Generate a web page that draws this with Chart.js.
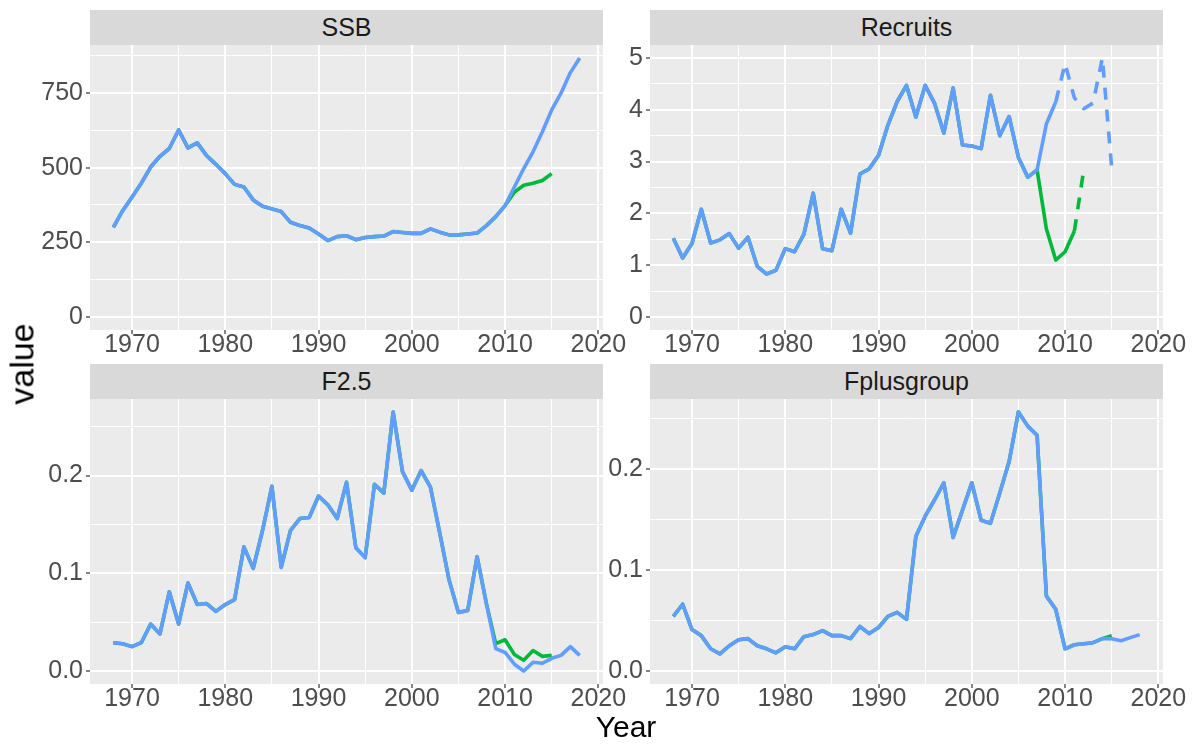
<!DOCTYPE html>
<html>
<head>
<meta charset="utf-8">
<script src="https://cdn.jsdelivr.net/npm/chart.js@4.4.1/dist/chart.umd.min.js"></script>
<style>
body{margin:0;background:#fff;font-family:"Liberation Sans",Arial,sans-serif}
#wrap{position:relative;width:1196px;height:745px;overflow:hidden;background:#fff}
.strip{position:absolute;background:#D9D9D9;color:#1A1A1A;font-size:25px;text-align:center;height:35px;line-height:35px}
.cv{position:absolute}
.title{position:absolute;color:#000;font-size:30px;white-space:nowrap}
</style>
</head>
<body>
<div id="wrap"></div>
<script>
const years = [1968,1969,1970,1971,1972,1973,1974,1975,1976,1977,1978,1979,1980,1981,1982,1983,1984,1985,1986,1987,
  1988,1989,1990,1991,1992,1993,1994,1995,1996,1997,1998,1999,2000,2001,2002,2003,2004,2005,2006,2007,
  2008,2009,2010,2011,2012,2013,2014,2015,2016,2017,2018];
const xMajor = [1970,1980,1990,2000,2010,2020];

// SSB
const ssbBlue = [300,356,401,448,502,538,564,626,566,583,540,511,480,444,435,392,371,362,353,317,
  306,298,278,256,269,272,259,266,269,271,286,283,280,280,295,284,275,275,278,281,
  306,336,373,435,497,553,620,693,749,818,867];
const ssbGreen = [300,356,401,448,502,538,564,626,566,583,540,511,480,444,435,392,371,362,353,317,
  306,298,278,256,269,272,259,266,269,271,286,283,280,280,295,284,275,275,278,281,
  306,336,373,418,441,448,457,480];
const ssbTicks = [0,250,500,750];
const ssbLabels = ['0','250','500','750'];

// Recruits
const recBlue = [1.52,1.14,1.42,2.08,1.43,1.49,1.61,1.33,1.54,0.98,0.83,0.90,1.32,1.26,1.60,2.39,1.32,1.28,2.08,1.62,
  2.76,2.86,3.12,3.70,4.16,4.47,3.86,4.47,4.13,3.55,4.42,3.32,3.30,3.25,4.28,3.50,3.87,3.08,2.70,2.84,
  3.73,4.15,4.89,4.23,4.02,4.13,5.00,2.87];
const recGreen = [1.52,1.14,1.42,2.08,1.43,1.49,1.61,1.33,1.54,0.98,0.83,0.90,1.32,1.26,1.60,2.39,1.32,1.28,2.08,1.62,
  2.76,2.86,3.12,3.70,4.16,4.47,3.86,4.47,4.13,3.55,4.42,3.32,3.30,3.25,4.28,3.50,3.87,3.08,2.70,2.84,
  1.70,1.10,1.26,1.66,2.84];
const recTicks = [0,1,2,3,4,5];
const recLabels = ['0','1','2','3','4','5'];

// F2.5
const f25Blue = [0.029,0.028,0.025,0.029,0.048,0.038,0.081,0.048,0.090,0.068,0.069,0.061,0.068,0.073,0.127,0.105,0.144,0.189,0.106,0.144,
  0.156,0.157,0.179,0.170,0.156,0.193,0.126,0.116,0.191,0.182,0.265,0.204,0.185,0.205,0.188,0.141,0.093,0.060,0.062,0.117,
  0.069,0.023,0.019,0.007,0.000,0.009,0.008,0.013,0.016,0.025,0.016];
const f25Green = [0.029,0.028,0.025,0.029,0.048,0.038,0.081,0.048,0.090,0.068,0.069,0.061,0.068,0.073,0.127,0.105,0.144,0.189,0.106,0.144,
  0.156,0.157,0.179,0.170,0.156,0.193,0.126,0.116,0.191,0.182,0.265,0.204,0.185,0.205,0.188,0.141,0.093,0.060,0.062,0.117,
  0.069,0.028,0.032,0.017,0.011,0.021,0.015,0.016];
const f25Ticks = [0,0.1,0.2];
const f25Labels = ['0.0','0.1','0.2'];

// Fplusgroup
const fpBlue = [0.054,0.066,0.041,0.035,0.022,0.017,0.025,0.031,0.032,0.025,0.022,0.018,0.024,0.022,0.034,0.036,0.040,0.035,0.035,0.032,
  0.044,0.037,0.043,0.054,0.058,0.051,0.133,0.153,0.169,0.186,0.132,0.159,0.186,0.149,0.146,0.176,0.207,0.256,0.242,0.233,
  0.074,0.061,0.022,0.026,0.027,0.028,0.032,0.032,0.030,0.033,0.036];
const fpGreen = [0.054,0.066,0.041,0.035,0.022,0.017,0.025,0.031,0.032,0.025,0.022,0.018,0.024,0.022,0.034,0.036,0.040,0.035,0.035,0.032,
  0.044,0.037,0.043,0.054,0.058,0.051,0.133,0.153,0.169,0.186,0.132,0.159,0.186,0.149,0.146,0.176,0.207,0.256,0.242,0.233,
  0.074,0.061,0.022,0.026,0.027,0.028,0.032,0.035];
const fpTicks = [0,0.1,0.2];
const fpLabels = ['0.0','0.1','0.2'];

const BLUE = '#619CFF', GREEN = '#00BA38';
Chart.defaults.font.family = "'Liberation Sans', Arial, sans-serif";

const panels = [
  {name:'SSB', left:90, top:45, ymin:-43.35, ymax:910.35, ticks:ssbTicks, labels:ssbLabels, blue:ssbBlue, green:ssbGreen},
  {name:'Recruits', left:650, top:45, ymin:-0.25, ymax:5.25, ticks:recTicks, labels:recLabels, blue:recBlue, green:recGreen, blueDash:2009, greenDash:2011},
  {name:'F2.5', left:90, top:399, ymin:-0.01325, ymax:0.27825, ticks:f25Ticks, labels:f25Labels, blue:f25Blue, green:f25Green},
  {name:'Fplusgroup', left:650, top:399, ymin:-0.0128, ymax:0.2688, ticks:fpTicks, labels:fpLabels, blue:fpBlue, green:fpGreen}
];
const PW = 513, PH = 285, YW = 60, XH = 45, PADR = 30, PADT = 24;

function minors(major, min, max){
  const step = major[1]-major[0], out = [];
  for(let v = major[0]-step/2; v <= max; v += step){ if(v >= min) out.push(+v.toFixed(6)); }
  return out;
}
function isMajor(list, v){ return list.some(m => Math.abs(m-v) < 1e-9); }

const panelBg = {id:'panelBg', beforeDraw(chart){
  const a = chart.chartArea, c = chart.ctx;
  c.save(); c.fillStyle = '#EBEBEB'; c.fillRect(a.left, a.top, a.right-a.left, a.bottom-a.top); c.restore();
}};

const wrap = document.getElementById('wrap');
panels.forEach(p => {
  const strip = document.createElement('div');
  strip.className = 'strip';
  strip.style.left = p.left+'px'; strip.style.top = (p.top-35)+'px'; strip.style.width = PW+'px';
  strip.textContent = p.name;
  wrap.appendChild(strip);

  const cv = document.createElement('canvas');
  cv.className = 'cv';
  cv.width = YW+PW+PADR; cv.height = PADT+PH+XH;
  cv.style.left = (p.left-YW)+'px'; cv.style.top = (p.top-PADT)+'px';
  cv.style.width = cv.width+'px'; cv.style.height = cv.height+'px';
  wrap.appendChild(cv);

  const xAll = xMajor.concat(minors(xMajor, 1965.5, 2020.5)).sort((a,b)=>a-b);
  const yAll = p.ticks.concat(minors(p.ticks, p.ymin, p.ymax)).sort((a,b)=>a-b);
  const pts = vals => vals.map((v,i) => ({x:years[i], y:v}));
  const line = (vals, color, dashFrom) => ({
    data: pts(vals), borderColor: color, borderWidth: 3.6, pointRadius: 0, tension: 0,
    borderJoinStyle: 'round', borderCapStyle: 'butt', fill: false,
    segment: {borderDash: c => (dashFrom != null && c.p0.parsed.x >= dashFrom) ? [12,10] : undefined}
  });

  new Chart(cv, {
    type: 'line',
    data: {datasets: [line(p.blue, BLUE, p.blueDash), line(p.green, GREEN, p.greenDash)]},
    plugins: [panelBg],
    options: {
      responsive: false, animation: false, devicePixelRatio: 1,
      layout: {padding: {top:PADT, left:0, bottom:0, right:PADR}},
      plugins: {legend: {display:false}, tooltip: {enabled:false}},
      scales: {
        x: {
          type: 'linear', min: 1965.5, max: 2020.5,
          afterBuildTicks: s => { s.ticks = xAll.map(v => ({value:v})); },
          afterFit: s => { s.height = XH; },
          ticks: {autoSkip:false, maxRotation:0, color:'#4D4D4D', font:{size:25}, padding:-4,
            callback: v => isMajor(xMajor, v) ? String(v) : ''},
          grid: {color:'#FFFFFF', lineWidth: c => isMajor(xMajor, c.tick.value) ? 2 : 1,
            tickLength:4, tickWidth:1.2, tickColor: c => isMajor(xMajor, c.tick.value) ? '#333333' : 'rgba(0,0,0,0)'},
          border: {display:false}
        },
        y: {
          type: 'linear', min: p.ymin, max: p.ymax,
          afterBuildTicks: s => { s.ticks = yAll.map(v => ({value:v})); },
          afterFit: s => { s.width = YW; },
          ticks: {autoSkip:false, color:'#4D4D4D', font:{size:25}, padding:3,
            callback: v => { const i = p.ticks.findIndex(m => Math.abs(m-v) < 1e-9); return i >= 0 ? p.labels[i] : ''; }},
          grid: {color:'#FFFFFF', lineWidth: c => isMajor(p.ticks, c.tick.value) ? 2 : 1,
            tickLength:4, tickWidth:1.2, tickColor: c => isMajor(p.ticks, c.tick.value) ? '#333333' : 'rgba(0,0,0,0)'},
          border: {display:false}
        }
      }
    }
  });
});

const yt = document.createElement('div');
yt.className = 'title'; yt.textContent = 'value';
yt.style.fontSize = '34px';
yt.style.left = '22px'; yt.style.top = '364px';
yt.style.transform = 'translate(-50%,-50%) rotate(-90deg)';
wrap.appendChild(yt);

const xt = document.createElement('div');
xt.className = 'title'; xt.textContent = 'Year';
xt.style.left = '626px'; xt.style.top = '727px';
xt.style.transform = 'translate(-50%,-50%)';
wrap.appendChild(xt);
</script>
</body>
</html>
